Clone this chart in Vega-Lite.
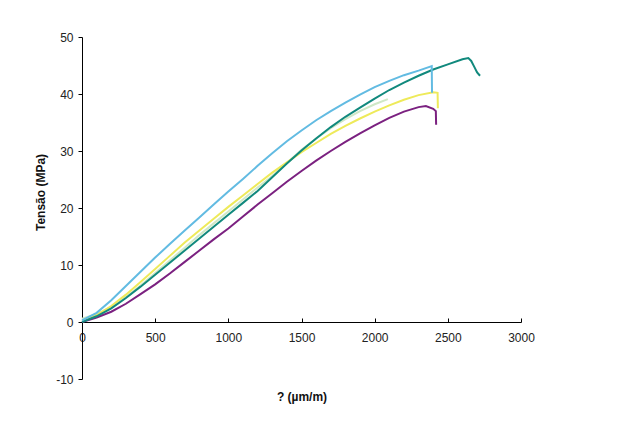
{
  "$schema": "https://vega.github.io/schema/vega-lite/v6.json",
  "width": 439,
  "height": 342,
  "autosize": {"type": "none"},
  "padding": {"left": 82, "top": 37, "right": 102, "bottom": 44},
  "background": "white",
  "config": {"view": {"stroke": null}, "font": "Liberation Sans"},
  "datasets": {
    "curves": [
      {"s": "green", "x": 0, "y": 0.6}, {"s": "green", "x": 100, "y": 1.4}, {"s": "green", "x": 200, "y": 2.6}, {"s": "green", "x": 300, "y": 4.4}, {"s": "green", "x": 400, "y": 6.4}, {"s": "green", "x": 500, "y": 8.6}, {"s": "green", "x": 600, "y": 10.8}, {"s": "green", "x": 700, "y": 13.0}, {"s": "green", "x": 800, "y": 15.2}, {"s": "green", "x": 900, "y": 17.3}, {"s": "green", "x": 1000, "y": 19.4}, {"s": "green", "x": 1100, "y": 21.5}, {"s": "green", "x": 1200, "y": 23.6}, {"s": "green", "x": 1300, "y": 25.6}, {"s": "green", "x": 1400, "y": 27.9}, {"s": "green", "x": 1500, "y": 30.2}, {"s": "green", "x": 1600, "y": 32.2}, {"s": "green", "x": 1700, "y": 34.0}, {"s": "green", "x": 1800, "y": 35.6}, {"s": "green", "x": 1900, "y": 37.0}, {"s": "green", "x": 2000, "y": 38.2}, {"s": "green", "x": 2090, "y": 39.1},

      {"s": "yellow", "x": 0, "y": 0.2}, {"s": "yellow", "x": 100, "y": 1.2}, {"s": "yellow", "x": 200, "y": 2.8}, {"s": "yellow", "x": 300, "y": 4.8}, {"s": "yellow", "x": 400, "y": 7.0}, {"s": "yellow", "x": 500, "y": 9.3}, {"s": "yellow", "x": 600, "y": 11.6}, {"s": "yellow", "x": 700, "y": 13.9}, {"s": "yellow", "x": 800, "y": 16.0}, {"s": "yellow", "x": 900, "y": 18.1}, {"s": "yellow", "x": 1000, "y": 20.2}, {"s": "yellow", "x": 1100, "y": 22.2}, {"s": "yellow", "x": 1200, "y": 24.2}, {"s": "yellow", "x": 1300, "y": 26.2}, {"s": "yellow", "x": 1400, "y": 28.0}, {"s": "yellow", "x": 1500, "y": 29.8}, {"s": "yellow", "x": 1600, "y": 31.4}, {"s": "yellow", "x": 1700, "y": 33.0}, {"s": "yellow", "x": 1800, "y": 34.4}, {"s": "yellow", "x": 1900, "y": 35.7}, {"s": "yellow", "x": 2000, "y": 36.9}, {"s": "yellow", "x": 2100, "y": 38.0}, {"s": "yellow", "x": 2200, "y": 39.0}, {"s": "yellow", "x": 2300, "y": 39.8}, {"s": "yellow", "x": 2400, "y": 40.3}, {"s": "yellow", "x": 2430, "y": 40.2}, {"s": "yellow", "x": 2432, "y": 37.5},

      {"s": "purple", "x": 0, "y": 0.0}, {"s": "purple", "x": 100, "y": 0.8}, {"s": "purple", "x": 200, "y": 1.8}, {"s": "purple", "x": 300, "y": 3.2}, {"s": "purple", "x": 400, "y": 4.9}, {"s": "purple", "x": 500, "y": 6.6}, {"s": "purple", "x": 600, "y": 8.5}, {"s": "purple", "x": 700, "y": 10.5}, {"s": "purple", "x": 800, "y": 12.5}, {"s": "purple", "x": 900, "y": 14.5}, {"s": "purple", "x": 1000, "y": 16.4}, {"s": "purple", "x": 1100, "y": 18.5}, {"s": "purple", "x": 1200, "y": 20.6}, {"s": "purple", "x": 1300, "y": 22.6}, {"s": "purple", "x": 1400, "y": 24.6}, {"s": "purple", "x": 1500, "y": 26.5}, {"s": "purple", "x": 1600, "y": 28.3}, {"s": "purple", "x": 1700, "y": 30.0}, {"s": "purple", "x": 1800, "y": 31.6}, {"s": "purple", "x": 1900, "y": 33.1}, {"s": "purple", "x": 2000, "y": 34.5}, {"s": "purple", "x": 2100, "y": 35.8}, {"s": "purple", "x": 2200, "y": 36.9}, {"s": "purple", "x": 2300, "y": 37.7}, {"s": "purple", "x": 2350, "y": 37.9}, {"s": "purple", "x": 2400, "y": 37.4}, {"s": "purple", "x": 2418, "y": 37.0}, {"s": "purple", "x": 2420, "y": 34.6},

      {"s": "teal", "x": 0, "y": 0.0}, {"s": "teal", "x": 100, "y": 1.0}, {"s": "teal", "x": 200, "y": 2.4}, {"s": "teal", "x": 300, "y": 4.2}, {"s": "teal", "x": 400, "y": 6.2}, {"s": "teal", "x": 500, "y": 8.3}, {"s": "teal", "x": 600, "y": 10.4}, {"s": "teal", "x": 700, "y": 12.5}, {"s": "teal", "x": 800, "y": 14.6}, {"s": "teal", "x": 900, "y": 16.7}, {"s": "teal", "x": 1000, "y": 18.8}, {"s": "teal", "x": 1100, "y": 20.9}, {"s": "teal", "x": 1200, "y": 23.0}, {"s": "teal", "x": 1300, "y": 25.4}, {"s": "teal", "x": 1400, "y": 27.8}, {"s": "teal", "x": 1500, "y": 30.1}, {"s": "teal", "x": 1600, "y": 32.2}, {"s": "teal", "x": 1700, "y": 34.2}, {"s": "teal", "x": 1800, "y": 36.0}, {"s": "teal", "x": 1900, "y": 37.6}, {"s": "teal", "x": 2000, "y": 39.2}, {"s": "teal", "x": 2100, "y": 40.7}, {"s": "teal", "x": 2200, "y": 42.0}, {"s": "teal", "x": 2300, "y": 43.2}, {"s": "teal", "x": 2400, "y": 44.3}, {"s": "teal", "x": 2500, "y": 45.2}, {"s": "teal", "x": 2600, "y": 46.1}, {"s": "teal", "x": 2640, "y": 46.3}, {"s": "teal", "x": 2660, "y": 45.8}, {"s": "teal", "x": 2680, "y": 44.8}, {"s": "teal", "x": 2700, "y": 43.8}, {"s": "teal", "x": 2720, "y": 43.2},

      {"s": "blue", "x": 0, "y": 0.3}, {"s": "blue", "x": 100, "y": 1.6}, {"s": "blue", "x": 200, "y": 3.8}, {"s": "blue", "x": 300, "y": 6.3}, {"s": "blue", "x": 400, "y": 8.8}, {"s": "blue", "x": 500, "y": 11.3}, {"s": "blue", "x": 600, "y": 13.7}, {"s": "blue", "x": 700, "y": 16.0}, {"s": "blue", "x": 800, "y": 18.3}, {"s": "blue", "x": 900, "y": 20.6}, {"s": "blue", "x": 1000, "y": 22.9}, {"s": "blue", "x": 1100, "y": 25.1}, {"s": "blue", "x": 1200, "y": 27.4}, {"s": "blue", "x": 1300, "y": 29.6}, {"s": "blue", "x": 1400, "y": 31.7}, {"s": "blue", "x": 1500, "y": 33.6}, {"s": "blue", "x": 1600, "y": 35.4}, {"s": "blue", "x": 1700, "y": 37.0}, {"s": "blue", "x": 1800, "y": 38.5}, {"s": "blue", "x": 1900, "y": 39.9}, {"s": "blue", "x": 2000, "y": 41.2}, {"s": "blue", "x": 2100, "y": 42.3}, {"s": "blue", "x": 2200, "y": 43.3}, {"s": "blue", "x": 2300, "y": 44.1}, {"s": "blue", "x": 2390, "y": 44.9}, {"s": "blue", "x": 2392, "y": 40.2}
    ]
  },
  "data": {"name": "curves"},
  "mark": {"type": "line", "strokeWidth": 2, "interpolate": "linear"},
  "encoding": {
    "x": {
      "field": "x", "type": "quantitative",
      "scale": {"domain": [0, 3000], "nice": false, "zero": false},
      "axis": {
        "title": "? (µm/m)", "values": [0, 500, 1000, 1500, 2000, 2500, 3000], "format": "d",
        "offset": -57, "grid": false, "domainColor": "#000", "tickColor": "#000",
        "tickSize": -4, "labelPadding": 14, "labelFontSize": 12, "labelColor": "#222",
        "labelFont": "Liberation Sans", "titleFont": "Liberation Sans", "titleFontSize": 12,
        "titleFontWeight": "bold", "titleColor": "#111", "titlePadding": 48, "labelFlush": false
      }
    },
    "y": {
      "field": "y", "type": "quantitative",
      "scale": {"domain": [-10, 50], "nice": false, "zero": false},
      "axis": {
        "title": "Tensão (MPa)", "values": [-10, 0, 10, 20, 30, 40, 50],
        "labelExpr": "datum.value < 0 ? '-' + abs(datum.value) : '' + datum.value",
        "grid": false, "domainColor": "#000", "tickColor": "#000", "tickSize": 4,
        "labelPadding": 5, "labelFontSize": 12, "labelColor": "#222",
        "labelFont": "Liberation Sans", "titleFont": "Liberation Sans", "titleFontSize": 12,
        "titleFontWeight": "bold", "titleColor": "#111",
        "titleX": -42, "titleY": 155, "titleAlign": "center", "titleBaseline": "middle", "titleAngle": -90
      }
    },
    "color": {
      "field": "s", "type": "nominal", "legend": null,
      "scale": {
        "domain": ["green", "yellow", "purple", "teal", "blue"],
        "range": ["#cfe8c6", "#eeea5a", "#7b2180", "#11897d", "#62bbe2"]
      }
    }
  }
}
